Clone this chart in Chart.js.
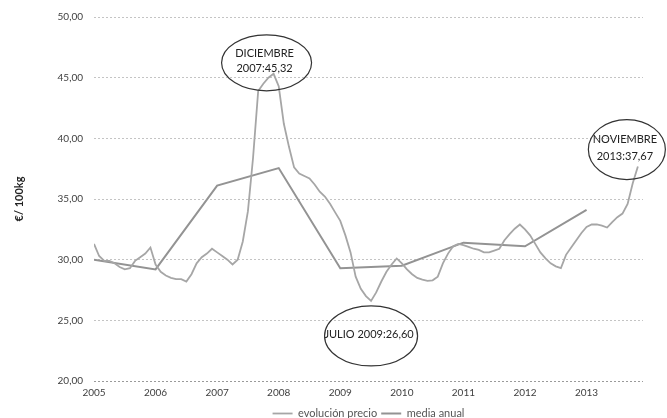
<!DOCTYPE html>
<html>
<head>
<meta charset="utf-8">
<script src="https://cdn.jsdelivr.net/npm/chart.js@4.4.0/dist/chart.umd.min.js"></script>
<style>
  html, body { margin: 0; padding: 0; background: #fff; }
</style>
</head>
<body>
<canvas id="precioChart" width="667" height="418"></canvas>
<script>
const startYear = 2005;
const years = [2005, 2006, 2007, 2008, 2009, 2010, 2011, 2012, 2013];

// precio mensual, €/100kg
const precio2005 = [31.3, 30.3, 29.9, 29.9, 29.7, 29.4, 29.2, 29.3, 29.9, 30.2, 30.5, 31.0];
const precio2006 = [29.6, 29.0, 28.7, 28.5, 28.4, 28.4, 28.2, 28.8, 29.7, 30.2, 30.5, 30.9];
const precio2007 = [30.6, 30.3, 30.0, 29.6, 30.0, 31.5, 34.0, 38.4, 43.9, 44.5, 45.0, 45.32];
const precio2008 = [44.3, 41.2, 39.3, 37.6, 37.1, 36.9, 36.7, 36.2, 35.6, 35.2, 34.6, 33.9];
const precio2009 = [33.2, 32.0, 30.6, 28.6, 27.6, 27.0, 26.6, 27.3, 28.2, 29.0, 29.6, 30.1];
const precio2010 = [29.7, 29.2, 28.8, 28.5, 28.35, 28.25, 28.3, 28.6, 29.7, 30.5, 31.1, 31.3];
const precio2011 = [31.2, 31.05, 30.9, 30.8, 30.6, 30.6, 30.75, 30.9, 31.6, 32.1, 32.55, 32.9];
const precio2012 = [32.5, 32.0, 31.3, 30.6, 30.1, 29.7, 29.45, 29.3, 30.4, 31.0, 31.6, 32.2];
const precio2013 = [32.7, 32.9, 32.9, 32.8, 32.65, 33.1, 33.5, 33.8, 34.6, 36.3, 37.67];

const mediaAnual = [30.0, 29.2, 36.1, 37.55, 29.3, 29.5, 31.4, 31.1, 34.1];

const precio = [].concat(precio2005, precio2006, precio2007, precio2008, precio2009,
    precio2010, precio2011, precio2012, precio2013);

// notas con elipse: mes (índice) y texto
const callouts = [
    { month: 35, lines: ['DICIEMBRE', '2007:45,32'], dx: -7, dy: -11, rx: 45, ry: 28, lh: 15 },
    { month: 54, lines: ['JULIO 2009:26,60'], dx: 0, dy: 35, rx: 46.5, ry: 30, lh: 15 },
    { month: 106, lines: ['NOVIEMBRE', '2013:37,67'], dx: -11, dy: -17, rx: 38.5, ry: 30, lh: 17 }
];

Chart.defaults.font.family = 'Lato';

const legendShift = {
    id: 'legendShift',
    afterLayout(chart) {
        const lg = chart.legend;
        const h = lg.bottom - lg.top;
        lg.left = chart.chartArea.left;
        lg.right = chart.chartArea.right;
        lg.top = chart.chartArea.bottom + 23;
        lg.bottom = lg.top + h;
    }
};

const calloutPlugin = {
    id: 'callouts',
    afterDraw(chart) {
        const ctx = chart.ctx;
        const x = chart.scales.x;
        const y = chart.scales.y;
        ctx.save();
        ctx.font = '11px Lato';
        ctx.textAlign = 'center';
        ctx.textBaseline = 'middle';
        callouts.forEach(function (c) {
            const cx = x.getPixelForValue(startYear + c.month / 12) + c.dx;
            const cy = y.getPixelForValue(precio[c.month]) + c.dy;
            ctx.beginPath();
            ctx.ellipse(cx, cy, c.rx, c.ry, 0, 0, Math.PI * 2);
            ctx.strokeStyle = '#333';
            ctx.lineWidth = 1.2;
            ctx.stroke();
            ctx.fillStyle = '#222';
            c.lines.forEach(function (t, i) {
                ctx.fillText(t, cx - 2, cy - 1.5 + (i - (c.lines.length - 1) / 2) * c.lh);
            });
        });
        ctx.restore();
    }
};

new Chart(document.getElementById('precioChart'), {
    type: 'line',
    data: {
        datasets: [{
            label: 'evolución precio',
            data: precio.map((v, i) => ({ x: startYear + i / 12, y: v })),
            borderColor: '#a6a6a6',
            backgroundColor: '#a6a6a6',
            borderWidth: 1.8,
            pointRadius: 0,
            tension: 0
        }, {
            label: 'media anual',
            data: years.map((yr, i) => ({ x: yr, y: mediaAnual[i] })),
            borderColor: '#939393',
            backgroundColor: '#939393',
            borderWidth: 2,
            pointRadius: 0,
            tension: 0
        }]
    },
    options: {
        responsive: false,
        animation: false,
        layout: { padding: { top: 16, right: 24, left: 0, bottom: -10 } },
        plugins: {
            tooltip: { enabled: false },
            legend: {
                position: 'bottom',
                labels: {
                    usePointStyle: true,
                    pointStyle: 'line',
                    pointStyleWidth: 20,
                    padding: 4,
                    color: '#555',
                    font: { size: 11 }
                }
            }
        },
        scales: {
            x: {
                type: 'linear',
                min: startYear,
                max: startYear + precio.length / 12,
                afterBuildTicks: function (s) {
                    s.ticks = years.map(v => ({ value: v }));
                },
                afterFit: function (s) { s.height = 22; },
                ticks: {
                    padding: 6,
                    maxRotation: 0,
                    autoSkip: false,
                    color: '#404040',
                    font: { size: 10 },
                    callback: v => String(v)
                },
                grid: { display: false, drawTicks: false },
                border: { display: false }
            },
            y: {
                min: 20,
                max: 50,
                afterFit: function (s) { s.width = 94; },
                ticks: {
                    stepSize: 5,
                    padding: 11,
                    color: '#404040',
                    font: { size: 10 },
                    callback: v => v.toFixed(2).replace('.', ',')
                },
                grid: {
                    drawTicks: false,
                    lineWidth: 1,
                    color: c => c.tick && c.tick.value === 20 ? '#9a9a9a' : '#c4c4c4'
                },
                border: { display: false, dash: [2, 2] },
                title: {
                    display: true,
                    text: '€/ 100kg',
                    color: '#222',
                    font: { size: 11, weight: 'bold' },
                    padding: { top: 13, bottom: 0 }
                }
            }
        }
    },
    plugins: [legendShift, calloutPlugin]
});
</script>
</body>
</html>
